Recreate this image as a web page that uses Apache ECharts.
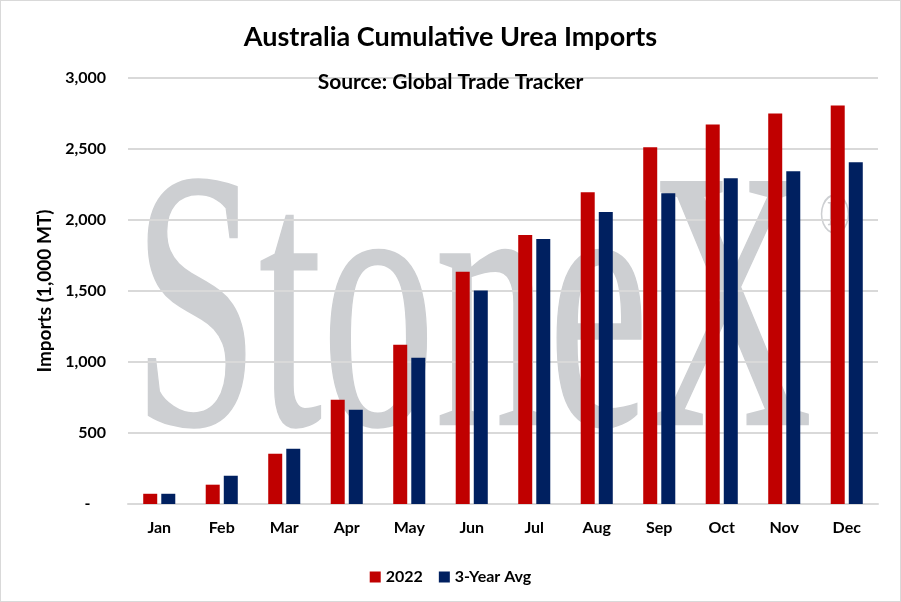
<!DOCTYPE html>
<html>
<head>
<meta charset="utf-8">
<script src="https://cdn.jsdelivr.net/npm/echarts@6/dist/echarts.min.js"></script>
<style>
html,body{margin:0;padding:0;background:#fff;}
#chart{width:901px;height:602px;box-sizing:border-box;border:1px solid #D9D9D9;}
</style>
</head>
<body>
<div id="chart"></div>
<script>
const months = ['Jan','Feb','Mar','Apr','May','Jun','Jul','Aug','Sep','Oct','Nov','Dec'];
const imports2022 = [72, 136, 354, 734, 1122, 1636, 1895, 2196, 2512, 2673, 2750, 2806];
const avg3Year = [72, 199, 389, 664, 1030, 1503, 1867, 2056, 2189, 2294, 2343, 2406];
const yTicks = { min: 0, max: 3000, interval: 500 };

const FONT = 'Lato, "Open Sans", sans-serif';
const chart = echarts.init(document.getElementById('chart'), null, {renderer: 'canvas'});
chart.setOption({
  backgroundColor: '#fff',
  animation: false,
  title: [
    {text: 'Australia Cumulative Urea Imports', left: 'center', top: 18,
     textStyle: {fontFamily: FONT, fontWeight: 'bold', fontSize: 27, color: '#000'}},
    {text: 'Source: Global Trade Tracker', left: 'center', top: 66,
     textStyle: {fontFamily: FONT, fontWeight: 'bold', fontSize: 21, color: '#000'}}
  ],
  graphic: [
    {type: 'text', z: -10, x: 132, y: 141, scaleX: 0.612, scaleY: 1,
     style: {text: 'StoneX', font: '370px "Liberation Serif", serif', fill: '#CDCFD2',
             stroke: '#CDCFD2', lineWidth: 2, align: 'left', verticalAlign: 'top'}},
    {type: 'text', z: -10, x: 818, y: 186, scaleX: 0.7,
     style: {text: '®', font: '60px "Liberation Serif", serif', fill: '#CDCFD2', align: 'left', verticalAlign: 'top'}}
  ],
  legend: {
    data: ['2022', '3-Year Avg'], left: 'center', top: 563,
    icon: 'rect', itemWidth: 11, itemHeight: 11, itemGap: 16,
    textStyle: {fontFamily: FONT, fontWeight: 'bold', fontSize: 16, color: '#000'}
  },
  grid: {left: 127, right: 22, top: 77, bottom: 97, containLabel: false},
  xAxis: {
    type: 'category', data: months,
    axisLine: {lineStyle: {color: '#D9D9D9', width: 2}},
    axisTick: {show: false},
    axisLabel: {fontFamily: FONT, fontWeight: 'bold', fontSize: 16, color: '#000', margin: 16}
  },
  yAxis: {
    type: 'value', min: yTicks.min, max: yTicks.max, interval: yTicks.interval,
    name: 'Imports (1,000 MT)', nameLocation: 'middle', nameGap: 74,
    nameTextStyle: {fontFamily: FONT, fontWeight: 'bold', fontSize: 19, color: '#000'},
    axisLine: {show: false}, axisTick: {show: false},
    splitLine: {lineStyle: {color: '#D9D9D9', width: 2}},
    axisLabel: {fontFamily: FONT, fontWeight: 'bold', fontSize: 16, color: '#000', margin: 22,
      formatter: v => v === 0 ? '-    ' : v.toLocaleString('en-US')}
  },
  series: [
    {name: '2022', type: 'bar', data: imports2022, barWidth: 14, barGap: '29%',
     itemStyle: {color: '#C00000'}},
    {name: '3-Year Avg', type: 'bar', data: avg3Year, barWidth: 14,
     itemStyle: {color: '#002060'}}
  ]
});
</script>
</body>
</html>
